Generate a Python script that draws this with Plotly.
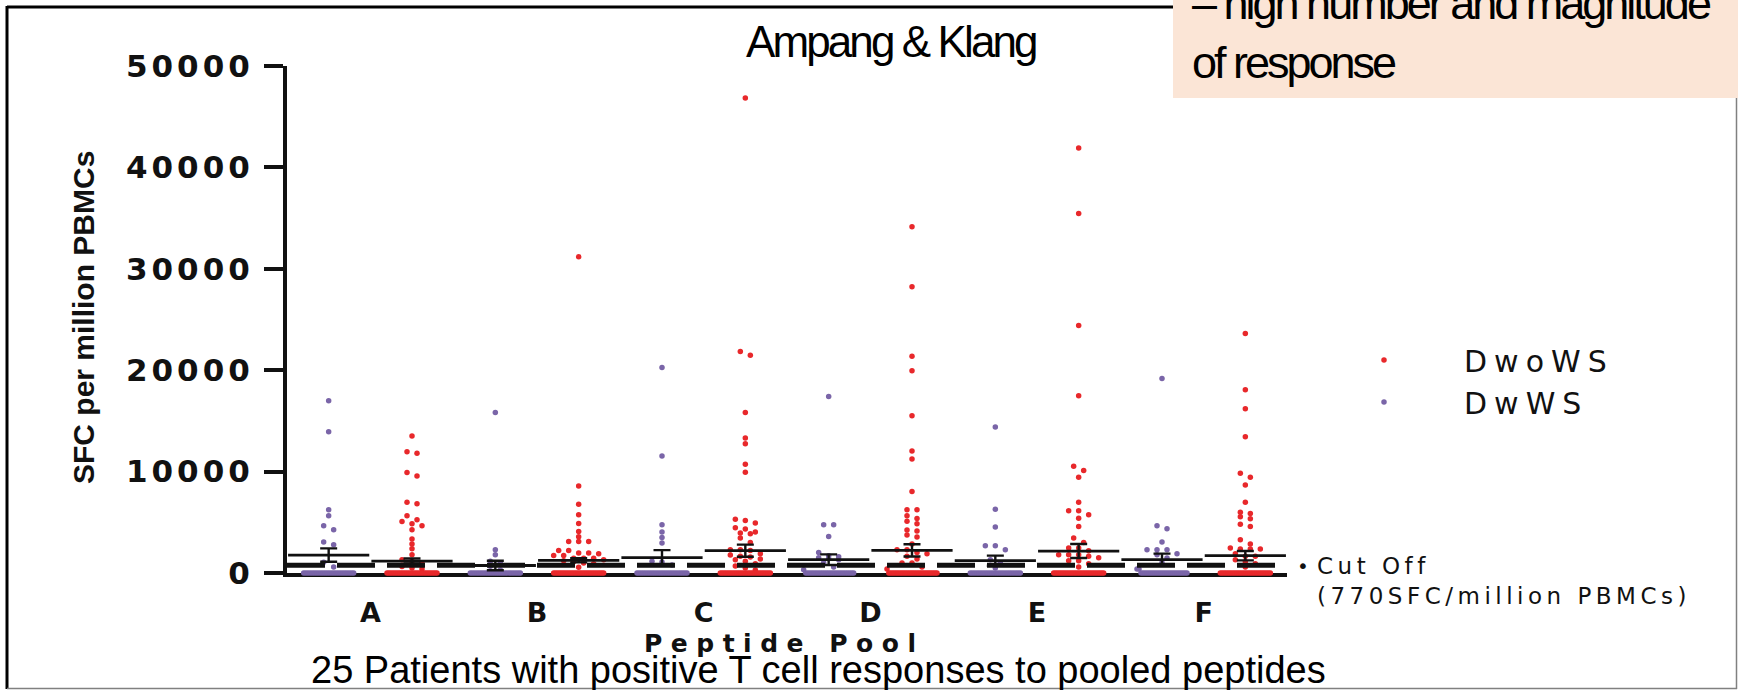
import plotly.graph_objects as go

# ---------------- data ----------------
pools = ["A", "B", "C", "D", "E", "F"]
series_names = ["DwoWS", "DwWS"]
y_tick_vals = [0, 10000, 20000, 30000, 40000, 50000]
y_tick_labels = ["0", "10000", "20000", "30000", "40000", "50000"]
cutoff_value = 770

# DwWS (purple) non-zero responses per pool
dwws_A = [16985, 13936, 6230, 5640, 4656, 4263, 3049, 2787, 1049, 600]
dwws_B = [15838, 2295, 1803, 1148, 984, 656, 300]
dwws_C = [20264, 11542, 4755, 4033, 3509, 2951, 1148, 1082, 800]
dwws_D = [17412, 4755, 4755, 3607, 2033, 1700, 1600, 1500, 1400, 1300, 1000, 600, 330]
dwws_E = [14395, 6296, 4525, 2689, 2689, 2295, 1300, 984, 490]
dwws_F = [19182, 4656, 4361, 3049, 2295, 2295, 2295, 1902, 1800, 1476, 1000, 393, 393]
dwws_zero_counts = [24, 24, 24, 24, 24, 24]

# DwoWS (red) non-zero responses per pool
dwows_A = [13510, 11968, 11804, 9903, 9575, 6984, 6820, 5640, 5246, 5082, 4853, 4656,
           4263, 3345, 2853, 2394, 1803, 1312, 1150, 1000, 650, 500, 400]
dwows_B = [31190, 8591, 6788, 5738, 4886, 4099, 3574, 3115, 3115, 3115, 2230, 2230, 1967,
           1967, 1900, 1738, 1738, 1443, 1443, 1443, 1300, 1213, 1100, 984, 900, 557]
dwows_C = [46835, 21838, 21477, 15838, 13313, 12755, 10722, 9935, 5312, 5181, 4919, 4460,
           4328, 4033, 3935, 3869, 3443, 3017, 2295, 2295, 2230, 1902, 1771, 1640, 1574,
           1377, 1312, 1148, 900, 700, 500, 300]
dwows_D = [34147, 28232, 21379, 19936, 15510, 12034, 11247, 8034, 6230, 6230, 5640, 5378,
           5115, 4853, 4230, 4132, 3738, 3541, 2853, 2295, 2295, 2033, 1900, 1640, 1377,
           984, 984, 600, 400]
dwows_E = [41905, 35465, 24420, 17477, 10526, 10099, 9444, 6984, 6132, 6132, 5738, 5410,
           4591, 3443, 3017, 2459, 2459, 2200, 1803, 1803, 1803, 1650, 1500, 1213, 1213,
           900, 600]
dwows_F = [23630, 18067, 16198, 13444, 9837, 9444, 8689, 6984, 6001, 5869, 5542, 5345,
           4820, 4591, 3279, 2853, 2459, 2361, 2361, 2361, 1900, 1640, 1640, 1300, 1100,
           900, 600]
dwows_zero_counts = [28, 28, 28, 28, 28, 28]

# mean and SEM
dwws_mean = [1771, 740, 1508, 1312, 1213, 1312]
dwws_sem = [655, 470, 750, 520, 500, 600]
dwows_mean = [1180, 1250, 2197, 2230, 2164, 1705]
dwows_sem = [250, 200, 600, 600, 690, 460]

dwws_values = [dwws_A, dwws_B, dwws_C, dwws_D, dwws_E, dwws_F]
dwows_values = [dwows_A, dwows_B, dwows_C, dwows_D, dwows_E, dwows_F]

# ---------------- layout geometry ----------------
W, H = 1738, 690
ML, MR, MT, MB = 287, 451, 66, 117
PW = W - ML - MR
PH = H - MT - MB


def px(x):
    return (x - ML) / PW


def py(y):
    return (H - MB - y) / PH


RED = "#E8282B"
PURPLE = "#7A65A8"
CHART_FONT = "DejaVu Sans"


def spaced(text, sp):
    return '<span style="letter-spacing:%spx">%s</span>' % (sp, text)


def swarm(values, n_zero, center, row_tol=450, step=0.12, max_half=0.30):
    vals = sorted(list(values) + [0] * n_zero, reverse=True)
    rows = []
    for v in vals:
        if rows and abs(rows[-1][0] - v) <= row_tol:
            rows[-1].append(v)
        else:
            rows.append([v])
    xs, ys = [], []
    for r in rows:
        k = len(r)
        s = step if k == 1 else min(step, 2 * max_half / (k - 1))
        for i, v in enumerate(r):
            xs.append(center + (i - (k - 1) / 2) * s)
            ys.append(v)
    return xs, ys


fig = go.Figure()

# red (DwoWS) dots
rx, ry = [], []
for i, vals in enumerate(dwows_values):
    xs, ys = swarm(vals, dwows_zero_counts[i], 2 * i + 1)
    rx += xs
    ry += ys
fig.add_trace(go.Scatter(x=rx, y=ry, mode="markers", name=spaced(series_names[0], 7),
                         marker=dict(color=RED, size=5.5), cliponaxis=False,
                         legendgroup="r", hoverinfo="y"))

# purple (DwWS) dots
bx, by = [], []
for i, vals in enumerate(dwws_values):
    xs, ys = swarm(vals, dwws_zero_counts[i], 2 * i)
    bx += xs
    by += ys
fig.add_trace(go.Scatter(x=bx, y=by, mode="markers", name=spaced(series_names[1], 7),
                         marker=dict(color=PURPLE, size=5.5), cliponaxis=False,
                         legendgroup="p", hoverinfo="y"))

# cut-off line
fig.add_trace(go.Scatter(x=[-0.5, 11.5], y=[cutoff_value, cutoff_value], mode="lines",
                         line=dict(color="#111111", width=5, dash="38px,12px"),
                         showlegend=False, hoverinfo="skip", cliponaxis=False))

# mean +/- SEM
mx = [2 * i for i in range(6)] + [2 * i + 1 for i in range(6)]
my = dwws_mean + dwows_mean
ms = dwws_sem + dwows_sem
fig.add_trace(go.Scatter(x=mx, y=my, mode="markers", showlegend=False, cliponaxis=False,
                         marker=dict(symbol="line-ew", size=58, color="#111111",
                                     line=dict(color="#111111", width=2.8)),
                         error_y=dict(type="data", array=ms, visible=True, color="#111111",
                                      thickness=2.4, width=8.5),
                         hoverinfo="skip"))

# ---------------- shapes: frame & pink box ----------------
shapes = [
    dict(type="line", xref="paper", yref="paper", x0=px(7), x1=px(1180), y0=py(7), y1=py(7),
         line=dict(color="black", width=3)),
    dict(type="line", xref="paper", yref="paper", x0=px(7), x1=px(7), y0=py(6), y1=py(689),
         line=dict(color="black", width=3)),
    dict(type="line", xref="paper", yref="paper", x0=px(7), x1=px(1737), y0=py(688.5), y1=py(688.5),
         line=dict(color="#808080", width=1.5)),
    dict(type="line", xref="paper", yref="paper", x0=px(1736.5), x1=px(1736.5), y0=py(98), y1=py(689),
         line=dict(color="#808080", width=1.5)),
    dict(type="rect", xref="paper", yref="paper", x0=px(1173), x1=px(1745), y0=py(98), y1=py(-5),
         fillcolor="#FBE5D6", line=dict(width=0)),
]

annotations = [
    dict(text=spaced("Ampang &amp; Klang", -2.9), x=px(891), y=py(42), xref="paper", yref="paper",
         xanchor="center", yanchor="middle", showarrow=False,
         font=dict(family="Liberation Sans", size=44, color="black")),
    dict(text=spaced("– high number and magnitude<br>of response", -3), x=px(1190), y=py(90),
         xref="paper", yref="paper", xanchor="left", yanchor="bottom", align="left",
         showarrow=False, font=dict(family="Liberation Sans", size=45, color="black")),
    dict(text="25 Patients with positive T cell responses to pooled peptides", x=px(818),
         y=py(670), xref="paper", yref="paper", xanchor="center", yanchor="middle",
         showarrow=False, font=dict(family="Liberation Sans", size=38, color="black")),
    dict(text=spaced("Peptide Pool", 8.5), x=px(784), y=py(643), xref="paper", yref="paper",
         xanchor="center", yanchor="middle", showarrow=False,
         font=dict(family=CHART_FONT, size=25, color="#111111", weight="bold")),
    dict(text="SFC per million PBMCs", x=px(83), y=py(318), xref="paper", yref="paper",
         xanchor="center", yanchor="middle", textangle=-90, showarrow=False,
         font=dict(family="Liberation Sans", size=30, color="#111111", weight="bold")),
    dict(text="•", x=px(1303), y=py(566), xref="paper", yref="paper", xanchor="center",
         yanchor="middle", showarrow=False, font=dict(family=CHART_FONT, size=20, color="#111111")),
    dict(text=spaced("Cut Off<br>(770SFC/million PBMCs)", 4.5), x=px(1315), y=py(581),
         xref="paper", yref="paper", xanchor="left", yanchor="middle", align="left",
         showarrow=False, font=dict(family=CHART_FONT, size=23, color="#111111")),
]

fig.update_layout(
    width=W, height=H,
    margin=dict(l=ML, r=MR, t=MT, b=MB, pad=0),
    paper_bgcolor="white", plot_bgcolor="white",
    showlegend=True,
    legend=dict(x=px(1304), y=py(334), xanchor="left", yanchor="top",
                font=dict(family=CHART_FONT, size=30, color="#111111"),
                itemwidth=150, tracegroupgap=18, bgcolor="rgba(0,0,0,0)",
                traceorder="normal"),
    shapes=shapes,
    annotations=annotations,
    xaxis=dict(range=[-0.5, 11.5], tickmode="array",
               tickvals=[2 * i + 0.5 for i in range(6)], ticktext=pools,
               showgrid=False, zeroline=False, showline=True, linecolor="#111111",
               linewidth=4, ticks="", ticklabelstandoff=13, layer="below traces",
               tickfont=dict(family=CHART_FONT, size=27, color="#111111", weight="bold")),
    yaxis=dict(range=[0, 50000], tickmode="array", tickvals=y_tick_vals,
               ticktext=[spaced(t, 4) for t in y_tick_labels],
               showgrid=False, zeroline=False, showline=True, linecolor="#111111",
               linewidth=4, ticks="outside", ticklen=19, tickwidth=4, tickcolor="#111111",
               ticklabelstandoff=4, layer="below traces",
               tickfont=dict(family=CHART_FONT, size=31, color="#111111", weight="bold")),
)

fig.write_html("out.html")
